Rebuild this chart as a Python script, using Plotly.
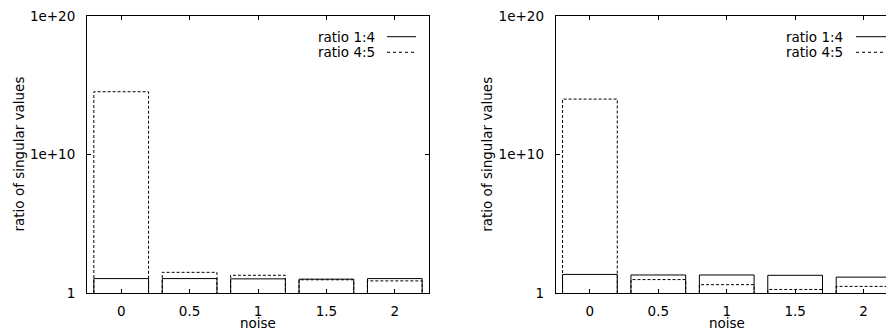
import plotly.graph_objects as go

# Noise levels on the x axis
noise = [0, 0.5, 1, 1.5, 2]
noise_labels = ["0", "0.5", "1", "1.5", "2"]

# Ratio of singular values, first experiment
left_ratio_1_4 = [11, 11, 10.5, 10, 11]
left_ratio_4_5 = [3.4e14, 31, 19, 9, 7.5]

# Ratio of singular values, second experiment
right_ratio_1_4 = [22, 20, 20, 19, 14]
right_ratio_4_5 = [1e14, 9.3, 4, 1.8, 3]

series_names = ["ratio 1:4", "ratio 4:5"]

# y tick positions and labels
y_ticks = [1, 1e10, 1e20]
y_tick_labels = ["1", "1e+10", "1e+20"]

W, H = 886, 332
TOP, BOTTOM = 16, 293          # plot area top/bottom in pixels
BOX_HALF = 0.2                 # half box width in x units
FONT = dict(family="DejaVu Sans", size=13.5, color="black")


def px_x(p):
    return p / W


def px_y(p):
    return (BOTTOM - p) / (BOTTOM - TOP)


def box_path(xs, vals):
    """Open rectangles (boxes) rising from the bottom of the log axis."""
    px, py = [], []
    for x, v in zip(xs, vals):
        px += [x - BOX_HALF, x - BOX_HALF, x + BOX_HALF, x + BOX_HALF, None]
        py += [1, v, v, 1, None]
    return px, py


fig = go.Figure()

panels = [
    ("x", "y", left_ratio_1_4, left_ratio_4_5),
    ("x2", "y2", right_ratio_1_4, right_ratio_4_5),
]
for xa, ya, s1, s2 in panels:
    for name, vals, dash in [(series_names[1], s2, "3px,2px"),
                             (series_names[0], s1, "solid")]:
        bx, by = box_path(noise, vals)
        fig.add_trace(go.Scatter(
            x=bx, y=by, mode="lines", name=name, xaxis=xa, yaxis=ya,
            line=dict(color="black", width=1, dash=dash),
            showlegend=False, hoverinfo="skip",
        ))

xcommon = dict(
    tickvals=noise, ticktext=noise_labels, ticks="inside", ticklen=4,
    tickcolor="black", showline=True, linecolor="black", linewidth=1,
    mirror="ticks", showgrid=False, zeroline=False, tickfont=FONT,
    ticklabelstandoff=6,
)
ycommon = dict(
    type="log", range=[0, 20], tickvals=y_ticks, ticktext=y_tick_labels,
    ticks="inside", ticklen=4, tickcolor="black", showline=True,
    linecolor="black", linewidth=1, showgrid=False, zeroline=False,
    tickfont=FONT, ticklabelstandoff=8,
)

fig.update_layout(
    width=W, height=H,
    margin=dict(l=0, r=0, t=TOP, b=H - BOTTOM, autoexpand=False),
    paper_bgcolor="white", plot_bgcolor="white",
    font=FONT,
    showlegend=False,
    xaxis=dict(domain=[px_x(87), px_x(429)], range=[-0.25, 2.25], anchor="y", **xcommon),
    yaxis=dict(domain=[0, 1], anchor="x", mirror="ticks", **ycommon),
    xaxis2=dict(domain=[px_x(555.7), 1.0], range=[-0.25, 2.164], anchor="y2", **xcommon),
    yaxis2=dict(domain=[0, 1], anchor="x2", mirror=False, **ycommon),
)

annotations = []
shapes = []

# axis titles
for cx, ycx in [(257.5, 18), (726.5, 486.3)]:
    annotations.append(dict(
        text="noise", xref="paper", yref="paper", x=px_x(cx), y=px_y(332),
        xanchor="center", yanchor="bottom", showarrow=False, font=FONT,
        borderpad=0,
    ))
    annotations.append(dict(
        text="ratio of singular values", xref="paper", yref="paper",
        x=px_x(ycx), y=px_y(154.5), xanchor="center", yanchor="middle",
        textangle=-90, showarrow=False, font=FONT,
    ))

# key boxes inside each panel
for text_right, line_x0, line_x1 in [(377, 387, 416), (845.3, 856, 886)]:
    for row_y, name, dash in [(36.7, series_names[0], "solid"),
                              (52.3, series_names[1], "dot")]:
        annotations.append(dict(
            text=name, xref="paper", yref="paper", x=px_x(text_right),
            y=px_y(row_y), xanchor="right", yanchor="middle",
            showarrow=False, font=FONT,
        ))
        shapes.append(dict(
            type="line", xref="paper", yref="paper",
            x0=px_x(line_x0), x1=px_x(line_x1), y0=px_y(row_y), y1=px_y(row_y),
            line=dict(color="black", width=1, dash=dash),
        ))

fig.update_layout(annotations=annotations, shapes=shapes)

fig.write_html("out.html", config={"displayModeBar": False})
